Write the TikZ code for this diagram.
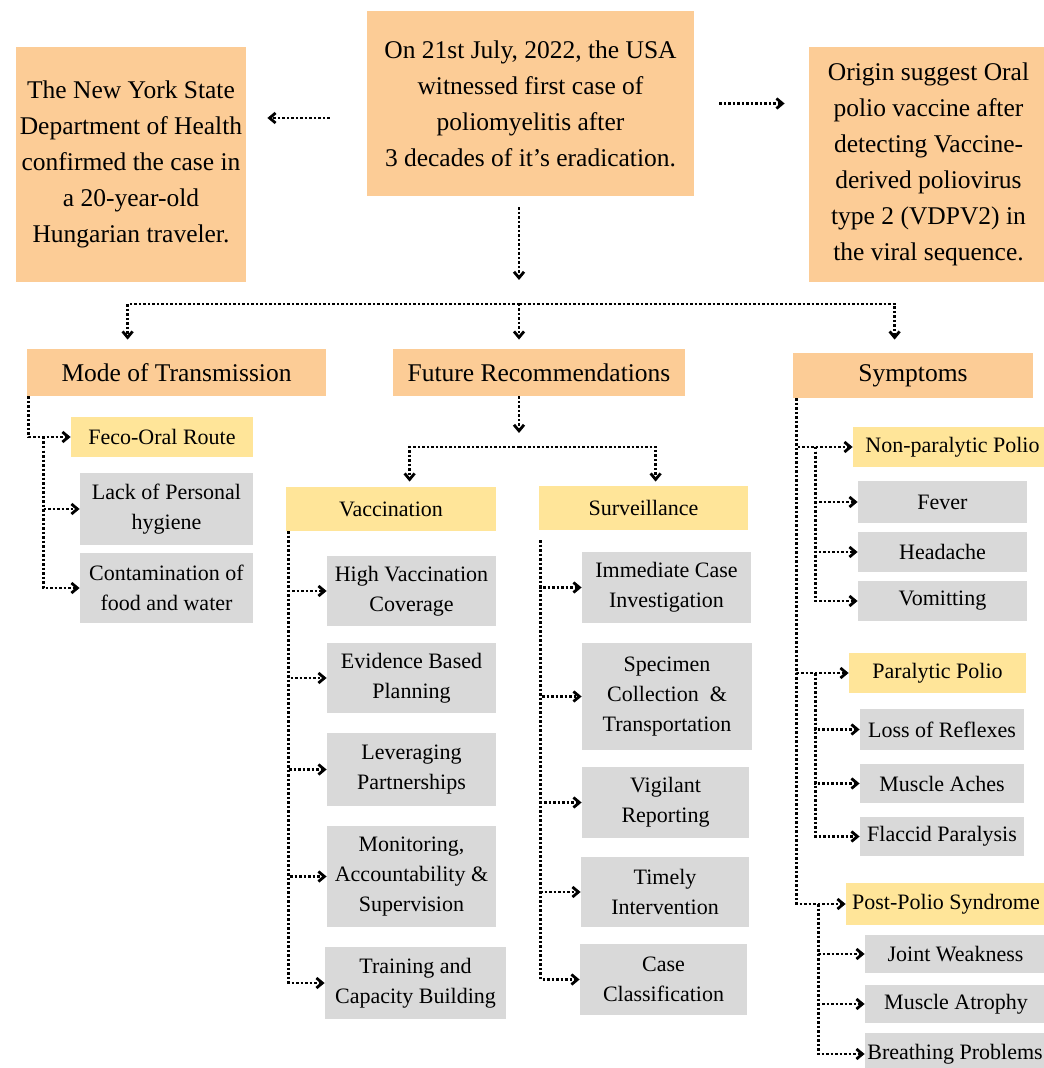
\documentclass[tikz,border=0pt]{standalone}
\usepackage{fontspec}
\setmainfont{Liberation Serif}
\usetikzlibrary{arrows.meta, calc, positioning}
\definecolor{boxorange}{RGB}{252,204,150}
\definecolor{boxyellow}{RGB}{255,229,153}
\definecolor{boxgray}{RGB}{217,217,217}

\begin{document}
\begin{tikzpicture}[% styles used in image code
x = 0.5pt, y = -0.5pt,
          > = {Straight Barb[length=3pt, width=5pt, line width=1.4pt]},
 dots/.style = {line width=1.25pt, dash pattern=on 1.25pt off 1pt},
  arr/.style = {dots, ->},
% corners of a box: left/top/right/bottom
 box/.style n args = {4}{at={({(#1+#3)/2},{(#2+#4)/2})},
                         minimum width={(#3-#1)*0.5pt},
                         minimum height={(#4-#2)*0.5pt}},
 topbox/.style = {fill=boxorange, inner sep=0pt, align=center,
                  font=\fontsize{12.75pt}{18pt}\selectfont},
 subbox/.style = {fill=boxyellow, inner sep=0pt, align=center,
                  font=\fontsize{11pt}{15pt}\selectfont},
itembox/.style = {fill=boxgray, inner sep=0pt, align=center,
                  font=\fontsize{11pt}{15pt}\selectfont}
                    ]
\useasboundingbox[fill=white] (0,0) rectangle (1043,1068);

	% top row
	\node[topbox, box={16}{47}{246}{282}] (nys)
	     {The New York State\\Department of Health\\confirmed the case in\\a 20-year-old\\Hungarian traveler.};
	\node[topbox, box={367}{11}{694}{196}] (usa)
	     {On 21st July, 2022, the USA\\witnessed first case of\\poliomyelitis after\\3 decades of it’s eradication.};
	\node[topbox, box={809}{47}{1048}{282}] (orig)
	     {Origin suggest Oral\\polio vaccine after\\detecting Vaccine-\\derived poliovirus\\type 2 (VDPV2) in\\the viral sequence.};

	% headings
	\node[topbox, box={27}{349}{326}{396}] (mot) {Mode of Transmission};
	\node[topbox, box={393}{349}{685}{396}] (fr) {Future Recommendations};
	\node[topbox, box={793}{353}{1033}{398}] (sym) {Symptoms};

	% mode of transmission
	\node[subbox, box={71}{417}{253}{457}] (feco) {Feco-Oral Route};
	\node[itembox, box={80}{473}{253}{545}] (lack) {Lack of Personal\\hygiene};
	\node[itembox, box={80}{553}{253}{623}] (cont) {Contamination of\\food and water};

	% future recommendations
	\node[subbox, box={286}{487}{496}{531}] (vac) {Vaccination};
	\node[subbox, box={539}{486}{748}{530}] (surv) {Surveillance};
	\node[itembox, box={327}{556}{496}{626}] (hvc) {High Vaccination\\Coverage};
	\node[itembox, box={327}{643}{496}{713}] (ebp) {Evidence Based\\Planning};
	\node[itembox, box={327}{733}{496}{806}] (lev) {Leveraging\\Partnerships};
	\node[itembox, box={327}{826}{496}{927}] (mon) {Monitoring,\\Accountability \&\\Supervision};
	\node[itembox, box={325}{947}{506}{1019}] (trn) {Training and\\Capacity Building};
	\node[itembox, box={582}{552}{751}{623}] (ici) {Immediate Case\\Investigation};
	\node[itembox, box={582}{643}{752}{750}] (spc) {Specimen\\Collection \ \&\\Transportation};
	\node[itembox, box={582}{767}{749}{838}] (vig) {Vigilant\\Reporting};
	\node[itembox, box={581}{857}{749}{927}] (tim) {Timely\\Intervention};
	\node[itembox, box={580}{944}{747}{1015}] (cas) {Case\\Classification};

	% symptoms
	\node[subbox, box={853}{427}{1052}{467}] (np) {Non-paralytic Polio};
	\node[itembox, box={858}{481}{1027}{523}] (fev) {Fever};
	\node[itembox, box={858}{532}{1027}{572}] (hed) {Headache};
	\node[itembox, box={858}{581}{1027}{621}] (vom) {Vomitting};
	\node[subbox, box={849}{653}{1026}{693}] (par) {Paralytic Polio};
	\node[itembox, box={860}{709}{1024}{750}] (los) {Loss of Reflexes};
	\node[itembox, box={860}{764}{1024}{803}] (ach) {Muscle Aches};
	\node[itembox, box={860}{817}{1024}{856}] (fla) {Flaccid Paralysis};
	\node[subbox, box={846}{883}{1046}{925}] (post) {Post-Polio Syndrome};
	\node[itembox, box={865}{935}{1046}{973}] (jnt) {Joint Weakness};
	\node[itembox, box={865}{985}{1047}{1023}] (atr) {Muscle Atrophy};
	\node[itembox, box={865}{1033}{1045}{1075}] (brt) {Breathing Problems};

	% arrows of the top row
	\draw[arr, shorten <=18.5pt, shorten >=10.5pt] ($(usa.west)+(0,14.5)$) -- ($(nys.east)+(0,-46.5)$);
	\draw[arr, shorten <=12.5pt, shorten >=12pt] (usa.east) -- (usa.east -| orig.west);

	% branches to the headings
	\coordinate (b0) at (519,304);
	\draw[arr, shorten <=5.5pt, shorten >=12pt] (usa.south -| b0) -- (b0);
	\draw[arr, shorten >=4.5pt] (b0) -| ($(mot.north west)+(101,0)$);
	\draw[arr, shorten >=4.5pt] (b0) -- (b0 |- fr.north);
	\draw[arr, shorten >=6.5pt] (b0) -| ($(sym.north west)+(102,0)$);

	% mode of transmission
	\draw[arr] ($(mot.south west)+(2,0)$) |- (feco.west);
	\coordinate (m1) at ($(feco.west)+(-27,0)$);
	\foreach \n in {lack, cont} \draw[arr] (m1) |- (\n.west);

	% future recommendations
	\coordinate (f0) at (519,447);
	\draw[arr, shorten >=7pt] (f0 |- fr.south) -- (f0);
	\draw[arr, shorten >=2.5pt] (f0) -| ($(vac.north west)+(124,0)$);
	\draw[arr, shorten >=2pt] (f0) -| ($(surv.north west)+(117,0)$);
	\foreach \n in {hvc, ebp, lev, mon, trn}
		\draw[arr] ($(vac.south west)+(3,0)$) |- (\n.west);
	\foreach \n in {ici, spc, vig, tim, cas}
		\draw[arr] ($(surv.south west)+(2,10)$) |- (\n.west);

	% symptoms
	\foreach \n in {np, par, post}
		\draw[arr] ($(sym.south west)+(4,0)$) |- (\n.west);
	\coordinate (s1) at ($(np.west)+(-37,0)$);
	\foreach \n in {fev, hed, vom} \draw[arr] (s1) |- (\n.west);
	\coordinate (s2) at ($(par.west)+(-33,0)$);
	\foreach \n in {los, ach, fla} \draw[arr] (s2) |- (\n.west);
	\coordinate (s3) at ($(post.west)+(-27,0)$);
	\foreach \n in {jnt, atr, brt} \draw[arr] (s3) |- (\n.west);
\end{tikzpicture}
\end{document}
